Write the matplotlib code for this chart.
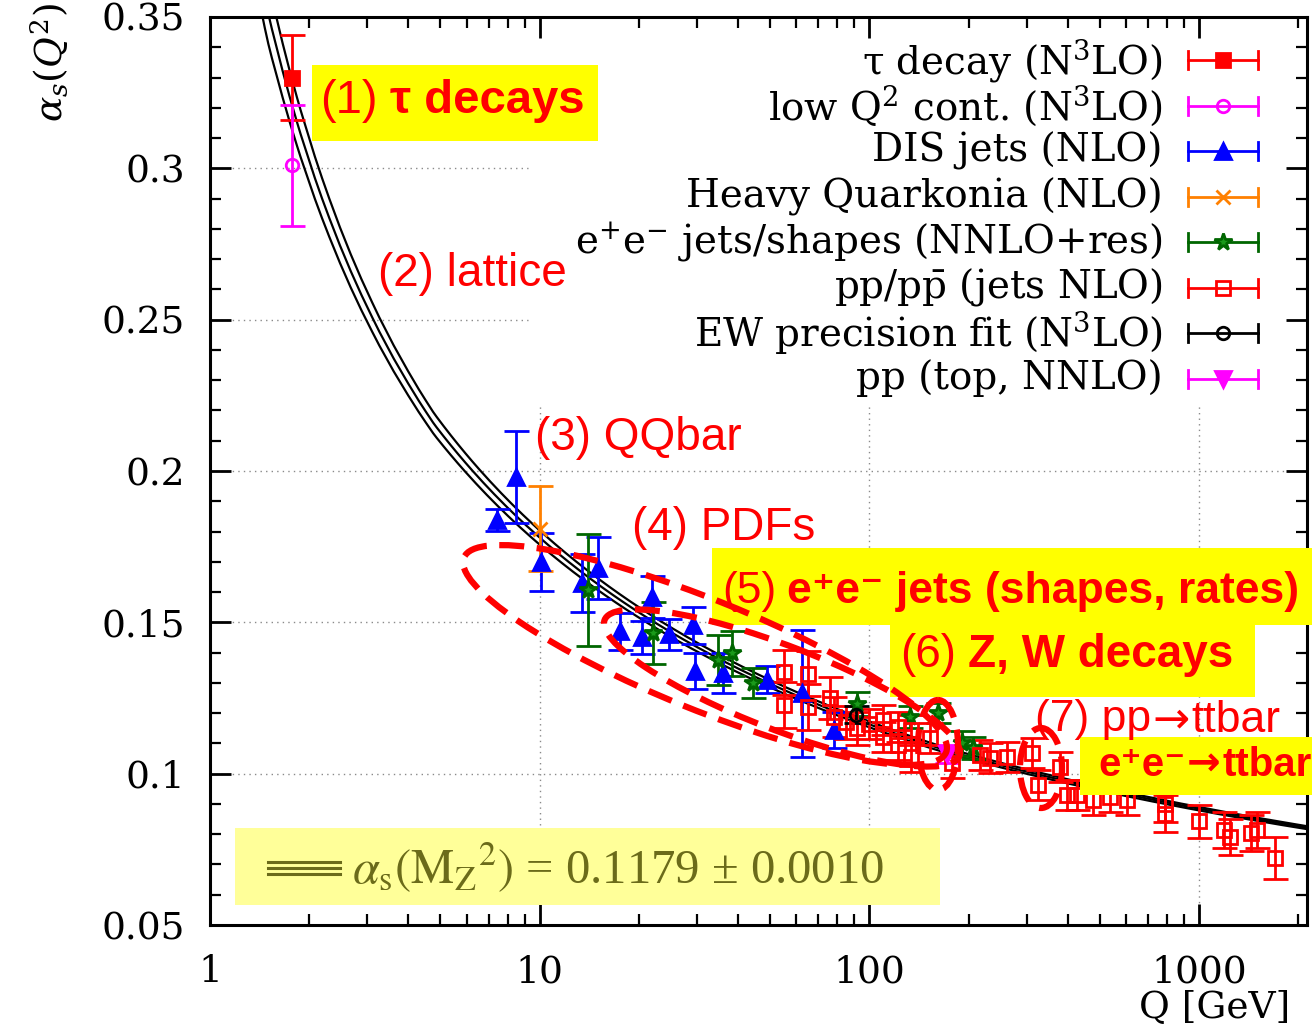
import numpy as np
import matplotlib
matplotlib.use("Agg")
import matplotlib.pyplot as plt
from matplotlib.patches import Ellipse, Rectangle
from matplotlib.ticker import FixedLocator, FuncFormatter, NullFormatter

plt.rcParams['font.family'] = ['DejaVu Serif', 'DejaVu Sans']
plt.rcParams['mathtext.fontset'] = 'dejavuserif'

SANS = ['Liberation Sans', 'DejaVu Sans']
ARROW = ['DejaVu Sans']
RED = '#ff0000'
YELLOW = '#ffff00'

# world average used for the running band
ALPHA_MZ = 0.1179
ALPHA_MZ_ERR = 0.0010
MZ = 91.1876
M_C, M_B, M_T = 1.5, 4.8, 173.0
ZETA3 = 1.2020569

# measurements: scale Q [GeV], alpha_s, uncertainty
tau_q = [1.777]
tau_a = [0.330]
tau_e = [0.014]

lowq_q = [1.777]
lowq_a = [0.301]
lowq_e = [0.020]

dis_q = [7.4, 8.5, 10.1, 13.4, 15.0, 17.5, 20.4, 21.9, 24.6, 29.2, 29.6, 36.0, 49.0, 62.6, 78.0]
dis_a = [0.1838, 0.198, 0.170, 0.163, 0.168, 0.1470, 0.1450, 0.1583, 0.1460, 0.1490,
         0.1340, 0.1332, 0.1310, 0.1266, 0.1144]
dis_e = [0.0035, 0.0152, 0.0095, 0.0095, 0.0103, 0.0060, 0.0055, 0.0070, 0.0050, 0.0060,
         0.0060, 0.0066, 0.0045, 0.0210, 0.0060]

hq_q = [10.0]
hq_a = [0.181]
hq_e = [0.014]

ee_q = [14.0, 22.0, 34.7, 38.2, 44.3, 91.6, 133.0, 161.0, 191.0, 206.0]
ee_a = [0.1606, 0.1464, 0.1375, 0.1398, 0.1299, 0.1230, 0.1187, 0.1200, 0.1100, 0.1085]
ee_e = [0.0185, 0.0103, 0.0083, 0.0075, 0.0050, 0.0040, 0.0035, 0.0033, 0.0040, 0.0035]

pp_q = [55, 55, 65, 65, 76, 78, 85, 92, 100, 110, 110, 122, 122, 134, 134, 153, 178, 217,
        232, 262, 311, 325, 378, 398, 427, 478, 538, 604, 790, 790, 1000, 1190, 1240,
        1440, 1500, 1700]
pp_a = [0.1335, 0.1227, 0.1330, 0.1220, 0.1250, 0.1187, 0.1170, 0.1150, 0.1165, 0.1177,
        0.1120, 0.1153, 0.1094, 0.1144, 0.1055, 0.1117, 0.1035, 0.1061, 0.1051, 0.1055,
        0.1068, 0.0962, 0.1021, 0.0929, 0.0929, 0.0912, 0.0922, 0.0912, 0.0868, 0.0900,
        0.0842, 0.0813, 0.0790, 0.0803, 0.0813, 0.0721]
pp_e = [0.0075, 0.0075, 0.0075, 0.0075, 0.0070, 0.0065, 0.0055, 0.0055, 0.0050, 0.0050,
        0.0050, 0.0050, 0.0050, 0.0050, 0.0050, 0.0050, 0.0050, 0.0050, 0.0050, 0.0050,
        0.0050, 0.0050, 0.0050, 0.0050, 0.0050, 0.0050, 0.0050, 0.0050, 0.0060, 0.0060,
        0.0055, 0.0060, 0.0060, 0.0060, 0.0060, 0.0070]

ew_q = [91.19]
ew_a = [0.1195]
ew_e = [0.0028]

top_q = [172.0]
top_a = [0.1065]
top_e = [0.0030]

SERIES = [
    (tau_q, tau_a, tau_e, r'τ decay (N$^3$LO)', dict(color='#ff0000', marker='s', mfc='#ff0000', ms=10)),
    (lowq_q, lowq_a, lowq_e, r'low Q$^2$ cont. (N$^3$LO)', dict(color='#ff00ff', marker='o', mfc='none', ms=9)),
    (dis_q, dis_a, dis_e, 'DIS jets (NLO)', dict(color='#0000ff', marker='^', mfc='#0000ff', ms=11)),
    (hq_q, hq_a, hq_e, 'Heavy Quarkonia (NLO)', dict(color='#ff8000', marker='x', mfc='#ff8000', ms=10)),
    (ee_q, ee_a, ee_e, r'e$^{+}$e$^{-}$ jets/shapes (NNLO+res)', dict(color='#006600', marker='*', mfc='#1a9a1a', ms=13)),
    (pp_q, pp_a, pp_e, r'pp/p$\bar{\mathrm{p}}$ (jets NLO)', dict(color='#ff0000', marker='s', mfc='none', ms=10)),
    (ew_q, ew_a, ew_e, r'EW precision fit (N$^3$LO)', dict(color='#000000', marker='o', mfc='none', ms=9)),
    (top_q, top_a, top_e, 'pp (top, NNLO)', dict(color='#ff00ff', marker='v', mfc='#ff00ff', ms=11)),
]


def beta_terms(nf):
    b0 = 11 - 2 * nf / 3
    b1 = 102 - 38 * nf / 3
    b2 = 2857 / 2 - 5033 * nf / 18 + 325 * nf ** 2 / 54
    b3 = (149753 / 6 + 3564 * ZETA3 - (1078361 / 162 + 6508 * ZETA3 / 27) * nf
          + (50065 / 162 + 6472 * ZETA3 / 81) * nf ** 2 + 1093 * nf ** 3 / 729)
    return b0, b1, b2, b3


def dadt(a, nf):
    b0, b1, b2, b3 = beta_terms(nf)
    return -(b0 * a ** 2 + b1 * a ** 3 + b2 * a ** 4 + b3 * a ** 5)


def alpha_s(q, alpha_mz, steps=400):
    # four-loop running from MZ, flavour number switched at the quark masses
    q = np.asarray(q, dtype=float)
    t = np.full_like(q, np.log(MZ ** 2))
    h = (np.log(q ** 2) - t) / steps
    a = np.full_like(q, alpha_mz / (4 * np.pi))
    for _ in range(steps):
        mu = np.exp(0.5 * (t + 0.5 * h))
        nf = 3 + (mu > M_C).astype(int) + (mu > M_B).astype(int) + (mu > M_T).astype(int)
        k1 = dadt(a, nf)
        k2 = dadt(a + 0.5 * h * k1, nf)
        k3 = dadt(a + 0.5 * h * k2, nf)
        k4 = dadt(a + h * k3, nf)
        a = a + h / 6 * (k1 + 2 * k2 + 2 * k3 + k4)
        t = t + h
    return 4 * np.pi * a


fig = plt.figure(figsize=(13.12, 10.27), dpi=100)
ax = fig.add_axes([210 / 1312, 102 / 1027, 1097 / 1312, 908 / 1027])
ax.set_xscale('log')
ax.set_xlim(1, 2125)
ax.set_ylim(0.05, 0.35)

# dotted grid, kept out of the key area in the upper right
KEY_Q, KEY_A = 9.2, 0.222
grid_kw = dict(color='#8a8a8a', lw=1.0, ls=(0, (1, 3)), zorder=0.5)
for yv in (0.1, 0.15, 0.2):
    ax.plot([1, 2125], [yv, yv], **grid_kw)
for yv in (0.25, 0.3):
    ax.plot([1, KEY_Q], [yv, yv], **grid_kw)
for xv in (10, 100, 1000):
    ax.plot([xv, xv], [0.05, KEY_A], **grid_kw)

q_curve = np.logspace(np.log10(1.2), np.log10(2125), 300)
for a0 in (ALPHA_MZ - ALPHA_MZ_ERR, ALPHA_MZ, ALPHA_MZ + ALPHA_MZ_ERR):
    ax.plot(q_curve, alpha_s(q_curve, a0), color='black', lw=1.6, zorder=2)

for q, a, e, label, st in SERIES:
    ax.errorbar(q, a, yerr=e, fmt=st['marker'], color=st['color'], mfc=st['mfc'],
                mec=st['color'], ms=st['ms'], mew=2.0, elinewidth=2.0, capsize=9,
                capthick=2.0, zorder=3)

ax.xaxis.set_major_locator(FixedLocator([1, 10, 100, 1000]))
ax.xaxis.set_minor_locator(FixedLocator([m * 10 ** k for k in range(4) for m in range(2, 10)]))
ax.xaxis.set_major_formatter(FuncFormatter(lambda v, p: f'{v:g}'))
ax.xaxis.set_minor_formatter(NullFormatter())
ax.yaxis.set_major_locator(FixedLocator(np.arange(0.05, 0.351, 0.05)))
ax.yaxis.set_minor_locator(FixedLocator(np.arange(0.05, 0.351, 0.01)))
ax.yaxis.set_major_formatter(FuncFormatter(lambda v, p: f'{v:g}'))
ax.tick_params(which='both', direction='in', top=True, right=True, labelsize=27)
ax.tick_params(which='major', length=15, width=2)
ax.tick_params(which='minor', length=8, width=1.6)
ax.tick_params(axis='x', pad=21)
ax.tick_params(axis='y', pad=18)
for sp in ax.spines.values():
    sp.set_linewidth(2.2)

# overlay in pixel units for the key and the notes on top of the plot
ov = fig.add_axes([0, 0, 1, 1], zorder=5)
ov.set_xlim(0, 1312)
ov.set_ylim(1027, 0)
ov.axis('off')
ov.patch.set_alpha(0)

ov.text(50, 62, r'$\alpha_s(Q^2)$', rotation=90, fontsize=27, ha='center', va='center')
ov.text(1290, 1008, 'Q [GeV]', fontsize=27, ha='right', va='center')

# key
for i, (q, a, e, label, st) in enumerate(SERIES):
    y = 60 + 45.5 * i
    ov.text(1163, y, label, fontsize=28, ha='right', va='center')
    ov.plot([1188, 1258], [y, y], color=st['color'], lw=2.0)
    ov.plot([1188, 1188], [y - 9, y + 9], color=st['color'], lw=2.0)
    ov.plot([1258, 1258], [y - 9, y + 9], color=st['color'], lw=2.0)
    ov.plot([1223], [y], marker=st['marker'], color=st['color'], mfc=st['mfc'],
            mec=st['color'], ms=st['ms'], mew=2.0, ls='none')

# world average box
ov.add_patch(Rectangle((235, 828), 705, 77, facecolor='#ffff99', edgecolor='none'))
for dy in (-6, 0, 6):
    ov.plot([268, 340], [868 + dy, 868 + dy], color='#6b6b1a', lw=2.2)
ov.text(352, 868, r'$\alpha_{\rm s}(\mathrm{M}_{\mathrm{Z}}{}^2)$ = 0.1179 ± 0.0010', fontsize=35,
        family='Liberation Serif', math_fontfamily='stix', color='#6b6b1a', va='center')

# highlighted notes
ov.add_patch(Rectangle((312, 65), 286, 76, facecolor=YELLOW, edgecolor='none'))
ov.add_patch(Rectangle((712, 548), 600, 77, facecolor=YELLOW, edgecolor='none'))
ov.add_patch(Rectangle((890, 625), 365, 72, facecolor=YELLOW, edgecolor='none'))
ov.add_patch(Rectangle((1080, 737), 232, 58, facecolor=YELLOW, edgecolor='none'))


def note(x, y, pieces, size=33):
    # pieces: (text, family, weight, gap before in points)
    prev = None
    for txt, fam, weight, gap in pieces:
        kw = dict(fontsize=size, family=fam, fontweight=weight, color=RED, ha='left', va='center')
        if prev is None:
            prev = ov.text(x, y, txt, **kw)
        else:
            prev = ov.annotate(txt, xy=(1, 0.5), xycoords=prev, xytext=(gap, 0),
                               textcoords='offset points', **kw)


note(320, 101, [('(1)', SANS, 'normal', 0), ('τ decays', SANS, 'bold', 9)], size=34)
note(378, 274, [('(2) lattice', SANS, 'normal', 0)])
note(535, 438, [('(3) QQbar', SANS, 'normal', 0)])
note(632, 528, [('(4) PDFs', SANS, 'normal', 0)])
note(722, 592, [('(5)', SANS, 'normal', 0), ('e⁺e⁻ jets (shapes, rates)', SANS, 'bold', 8)], size=32)
note(900, 655, [('(6)', SANS, 'normal', 0), ('Z, W decays', SANS, 'bold', 9)])
note(1035, 720, [('(7) pp', SANS, 'normal', 0), ('→', ARROW, 'normal', 1),
                 ('ttbar', SANS, 'normal', 1)], size=32)
note(1098, 765, [('e⁺e⁻', SANS, 'bold', 0), ('→', ARROW, 'bold', 1),
                 ('ttbar', SANS, 'bold', 1)], size=29)

ell_kw = dict(fill=False, edgecolor=RED, lw=4.5, ls=(0, (4, 2)))
ov.add_patch(Ellipse((705, 655), 520, 110, angle=22, **ell_kw))
ov.add_patch(Ellipse((782, 688), 380, 84, angle=21, **ell_kw))
ov.add_patch(Ellipse((938, 745), 40, 90, **ell_kw))
ov.add_patch(Ellipse((1041, 768), 42, 80, **ell_kw))

fig.savefig('out.png', dpi=100)
